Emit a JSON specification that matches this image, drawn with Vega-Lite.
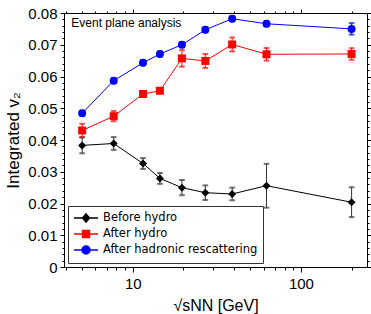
{
  "$schema": "https://vega.github.io/schema/vega-lite/v6.json",
  "width": 303,
  "height": 254,
  "autosize": {"type": "none"},
  "padding": {"left": 64, "top": 13, "right": 4, "bottom": 47},
  "config": {
    "view": {"stroke": null},
    "axis": {"grid": false, "domainColor": "black", "tickColor": "black", "labelColor": "black", "titleColor": "black", "labelFont": "Liberation Sans", "titleFont": "Liberation Sans", "titleFontWeight": "normal", "labelFontSize": 15, "domainWidth": 1, "tickWidth": 1},
    "legend": {"orient": "bottom-left", "offset": 4, "labelFont": "DejaVu Sans", "labelFontSize": 11.5, "labelColor": "black", "symbolSize": 144, "labelOffset": 16, "padding": 5, "rowPadding": 1, "strokeColor": "#333333", "fillColor": "white", "symbolStrokeWidth": 1.5, "symbolOpacity": 1}
  },
  "data": {"values": [
    {"series": "Before hydro", "e": 5, "v": 0.0383, "err": 0.0025},
    {"series": "Before hydro", "e": 7.7, "v": 0.0389, "err": 0.002},
    {"series": "Before hydro", "e": 11.5, "v": 0.0326, "err": 0.0017},
    {"series": "Before hydro", "e": 14.5, "v": 0.0279, "err": 0.0017},
    {"series": "Before hydro", "e": 19.6, "v": 0.025, "err": 0.0024},
    {"series": "Before hydro", "e": 27, "v": 0.0234, "err": 0.0023},
    {"series": "Before hydro", "e": 39, "v": 0.023, "err": 0.002},
    {"series": "Before hydro", "e": 62.4, "v": 0.0256, "err": 0.0069},
    {"series": "Before hydro", "e": 200, "v": 0.0204, "err": 0.0047},
    {"series": "After hydro", "e": 5, "v": 0.043, "err": 0.0021},
    {"series": "After hydro", "e": 7.7, "v": 0.0475, "err": 0.0016},
    {"series": "After hydro", "e": 11.5, "v": 0.0545, "err": 0.0008},
    {"series": "After hydro", "e": 14.5, "v": 0.0555, "err": 0.0008},
    {"series": "After hydro", "e": 19.6, "v": 0.0657, "err": 0.0026},
    {"series": "After hydro", "e": 27, "v": 0.0649, "err": 0.0022},
    {"series": "After hydro", "e": 39, "v": 0.0701, "err": 0.0022},
    {"series": "After hydro", "e": 62.4, "v": 0.067, "err": 0.002},
    {"series": "After hydro", "e": 200, "v": 0.0671, "err": 0.0018},
    {"series": "After hadronic rescattering", "e": 5, "v": 0.0484, "err": 0.0008},
    {"series": "After hadronic rescattering", "e": 7.7, "v": 0.0587, "err": 0.0008},
    {"series": "After hadronic rescattering", "e": 11.5, "v": 0.0643, "err": 0.0008},
    {"series": "After hadronic rescattering", "e": 14.5, "v": 0.0671, "err": 0.0008},
    {"series": "After hadronic rescattering", "e": 19.6, "v": 0.07, "err": 0.0008},
    {"series": "After hadronic rescattering", "e": 27, "v": 0.0747, "err": 0.0008},
    {"series": "After hadronic rescattering", "e": 39, "v": 0.0782, "err": 0.0008},
    {"series": "After hadronic rescattering", "e": 62.4, "v": 0.0766, "err": 0.0008},
    {"series": "After hadronic rescattering", "e": 200, "v": 0.075, "err": 0.0018}
  ]},
  "resolve": {"axis": {"x": "independent", "y": "independent"}},
  "layer": [
    {
      "mark": {"type": "line", "strokeWidth": 1},
      "encoding": {
        "x": {"field": "e", "type": "quantitative", "scale": {"type": "log", "domain": [3.9, 247], "nice": false},
          "axis": {"orient": "bottom", "title": "√sNN [GeV]", "titleFontSize": 16, "titlePadding": 6,
            "values": [4, 5, 6, 7, 8, 9, 10, 20, 30, 40, 50, 60, 70, 80, 90, 100, 200],
            "labelExpr": "datum.value == 10 ? '10' : datum.value == 100 ? '100' : ''",
            "labelOverlap": false, "labelFlush": false, "labelPadding": 4,
            "tickSize": {"condition": {"test": "datum.value == 10 || datum.value == 100", "value": 5}, "value": 3}}},
        "y": {"field": "v", "type": "quantitative", "scale": {"domain": [0, 0.08], "nice": false, "zero": true},
          "axis": {"orient": "left", "title": "Integrated v₂", "titleFontSize": 17, "titlePadding": 5,
            "values": [0, 0.002, 0.004, 0.006, 0.008, 0.01, 0.012, 0.014, 0.016, 0.018, 0.02, 0.022, 0.024, 0.026, 0.028, 0.03, 0.032, 0.034, 0.036, 0.038, 0.04, 0.042, 0.044, 0.046, 0.048, 0.05, 0.052, 0.054, 0.056, 0.058, 0.06, 0.062, 0.064, 0.066, 0.068, 0.07, 0.072, 0.074, 0.076, 0.078, 0.08],
            "labelExpr": "abs(datum.value * 100 - round(datum.value * 100)) < 1e-6 ? format(datum.value, '~g') : ''",
            "labelOverlap": false, "labelFlush": false, "labelPadding": 3,
            "tickSize": {"condition": {"test": "abs(datum.value * 100 - round(datum.value * 100)) < 1e-6", "value": 4}, "value": 2}}},
        "color": {"field": "series", "type": "nominal",
          "scale": {"domain": ["Before hydro", "After hydro", "After hadronic rescattering"], "range": ["#000000", "#ff0000", "#0000ff"]},
          "legend": {"title": null,
            "encode": {"symbols": {"update": {
              "shape": {"signal": "datum.value === 'Before hydro' ? 'M-1,0L3,0M0.42,0L1,-0.67L1.58,0L1,0.67Z' : datum.value === 'After hydro' ? 'M-1,0L3,0M0.42,-0.58L1.58,-0.58L1.58,0.58L0.42,0.58Z' : 'M-1,0L3,0M1.67,0A0.67,0.67,0,1,0,0.33,0A0.67,0.67,0,1,0,1.67,0Z'"},
              "fill": {"signal": "datum.value === 'Before hydro' ? '#000000' : datum.value === 'After hydro' ? '#ff0000' : '#0000ff'"},
              "strokeWidth": {"value": 1.5},
              "opacity": {"value": 1},
              "fillOpacity": {"value": 1},
              "strokeOpacity": {"value": 1}
            }}}}},
        "detail": {"field": "series"}
      }
    },
    {
      "mark": {"type": "errorbar", "ticks": {"size": 5}, "thickness": 1},
      "encoding": {
        "x": {"field": "e", "type": "quantitative", "axis": null},
        "y": {"field": "v", "type": "quantitative", "axis": null},
        "yError": {"field": "err"},
        "stroke": {"field": "series", "type": "nominal", "legend": null,
          "scale": {"domain": ["Before hydro", "After hydro", "After hadronic rescattering"], "range": ["#333333", "#ff0000", "#0000ff"]}}
      }
    },
    {
      "mark": {"type": "point", "filled": true, "opacity": 1, "size": 64},
      "encoding": {
        "x": {"field": "e", "type": "quantitative",
          "axis": {"orient": "top", "title": null, "labels": false,
            "values": [4, 5, 6, 7, 8, 9, 10, 20, 30, 40, 50, 60, 70, 80, 90, 100, 200],
            "tickSize": {"condition": {"test": "datum.value == 10 || datum.value == 100", "value": 4}, "value": 2}}},
        "y": {"field": "v", "type": "quantitative",
          "axis": {"orient": "right", "title": null, "labels": false,
            "values": [0, 0.002, 0.004, 0.006, 0.008, 0.01, 0.012, 0.014, 0.016, 0.018, 0.02, 0.022, 0.024, 0.026, 0.028, 0.03, 0.032, 0.034, 0.036, 0.038, 0.04, 0.042, 0.044, 0.046, 0.048, 0.05, 0.052, 0.054, 0.056, 0.058, 0.06, 0.062, 0.064, 0.066, 0.068, 0.07, 0.072, 0.074, 0.076, 0.078, 0.08],
            "tickSize": {"condition": {"test": "abs(datum.value * 100 - round(datum.value * 100)) < 1e-6", "value": 4}, "value": 2}}},
        "fill": {"field": "series", "type": "nominal", "legend": null,
          "scale": {"domain": ["Before hydro", "After hydro", "After hadronic rescattering"], "range": ["#000000", "#ff0000", "#0000ff"]}},
        "shape": {"field": "series", "type": "nominal", "legend": null,
          "scale": {"domain": ["After hydro", "Before hydro", "After hadronic rescattering"], "range": ["square", "diamond", "circle"]}}
      }
    },
    {
      "data": {"values": [{"e": 4.31, "v": 0.0768, "t": "Event plane analysis"}]},
      "mark": {"type": "text", "align": "left", "baseline": "middle", "font": "Liberation Sans", "fontSize": 12, "color": "black"},
      "encoding": {
        "x": {"field": "e", "type": "quantitative", "axis": null},
        "y": {"field": "v", "type": "quantitative", "axis": null},
        "text": {"field": "t"}
      }
    }
  ]
}
